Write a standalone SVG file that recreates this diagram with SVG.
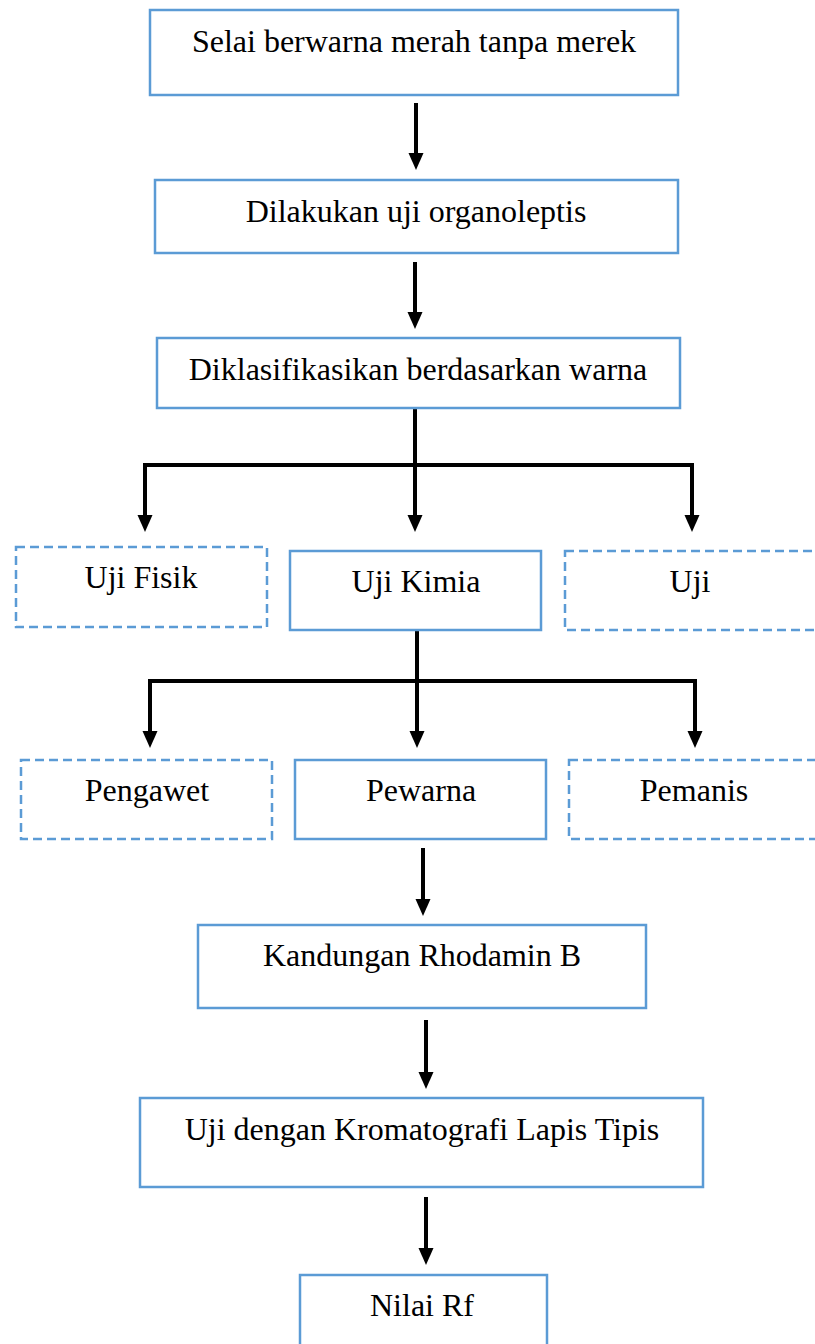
<svg xmlns="http://www.w3.org/2000/svg" width="815" height="1344" viewBox="0 0 815 1344">
<style>
.box{fill:#fff;stroke:#5B9BD5;stroke-width:2.5}
.dash{stroke-dasharray:9 5}
.t{font-family:"Liberation Serif","Times New Roman",serif;font-size:32px;fill:#000;text-anchor:middle}
.c{fill:none;stroke:#000;stroke-width:4}
</style>
<defs>
<marker id="ah" markerUnits="userSpaceOnUse" markerWidth="18" markerHeight="16" refX="6" refY="8" orient="auto" viewBox="0 0 18 16">
<path d="M0,0.5 L17,8 L0,15.5 z" fill="#000"/>
</marker>
</defs>
<rect width="815" height="1344" fill="#fff"/>
<g id="connectors">
<line class="c" x1="416" y1="103" x2="416" y2="159" marker-end="url(#ah)"/>
<line class="c" x1="415" y1="262" x2="415" y2="318" marker-end="url(#ah)"/>
<line class="c" x1="415" y1="408" x2="415" y2="521" marker-end="url(#ah)"/>
<polyline class="c" points="145,521 145,465 692,465 692,521"/>
<line class="c" x1="145" y1="500" x2="145" y2="521" marker-end="url(#ah)"/>
<line class="c" x1="692" y1="500" x2="692" y2="521" marker-end="url(#ah)"/>
<line class="c" x1="417" y1="630" x2="417" y2="737" marker-end="url(#ah)"/>
<polyline class="c" points="150,737 150,681 695,681 695,737"/>
<line class="c" x1="150" y1="720" x2="150" y2="737" marker-end="url(#ah)"/>
<line class="c" x1="695" y1="720" x2="695" y2="737" marker-end="url(#ah)"/>
<line class="c" x1="423" y1="848" x2="423" y2="905" marker-end="url(#ah)"/>
<line class="c" x1="426" y1="1020" x2="426" y2="1078" marker-end="url(#ah)"/>
<line class="c" x1="426" y1="1197" x2="426" y2="1254" marker-end="url(#ah)"/>
</g>
<g id="n1"><rect class="box" x="150" y="10" width="528" height="85"/><text class="t" x="414" y="52">Selai berwarna merah tanpa merek</text></g>
<g id="n2"><rect class="box" x="155" y="180" width="523" height="73"/><text class="t" x="416" y="222">Dilakukan uji organoleptis</text></g>
<g id="n3"><rect class="box" x="157" y="338" width="523" height="70"/><text class="t" x="418" y="380">Diklasifikasikan berdasarkan warna</text></g>
<g id="n4"><rect class="box dash" x="16" y="547" width="251" height="80"/><text class="t" x="141" y="588">Uji Fisik</text></g>
<g id="n5"><rect class="box" x="290" y="551" width="251" height="79"/><text class="t" x="416" y="592">Uji Kimia</text></g>
<g id="n6"><rect class="box dash" x="565" y="551" width="260" height="79"/><text class="t" x="690" y="592">Uji</text></g>
<g id="n7"><rect class="box dash" x="21" y="760" width="251" height="79"/><text class="t" x="147" y="801">Pengawet</text></g>
<g id="n8"><rect class="box" x="295" y="760" width="251" height="79"/><text class="t" x="421" y="801">Pewarna</text></g>
<g id="n9"><rect class="box dash" x="569" y="760" width="260" height="79"/><text class="t" x="694" y="801">Pemanis</text></g>
<g id="n10"><rect class="box" x="198" y="925" width="448" height="83"/><text class="t" x="422" y="966">Kandungan Rhodamin B</text></g>
<g id="n11"><rect class="box" x="140" y="1098" width="563" height="89"/><text class="t" x="422" y="1140">Uji dengan Kromatografi Lapis Tipis</text></g>
<g id="n12"><rect class="box" x="300" y="1275" width="247" height="80"/><text class="t" x="422" y="1316">Nilai Rf</text></g>
</svg>
